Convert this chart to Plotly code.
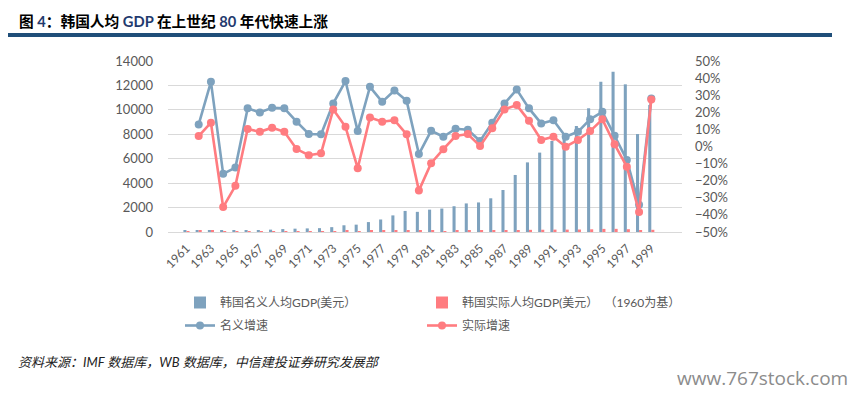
import plotly.graph_objects as go

years = [str(y) for y in range(1961, 2000)]
tick_years = years[::2]

nominal_gdp = [92, 104, 143, 122, 107, 131, 158, 194, 238, 273, 295, 316, 398, 550, 602,
               812, 1025, 1360, 1725, 1650, 1830, 1920, 2110, 2340, 2420, 2760, 3440, 4670,
               5700, 6500, 7450, 7930, 8680, 10130, 12300, 13120, 12090, 8020, 10400]
real_gdp = [80, 85, 97, 63, 49, 54, 58, 64, 70, 69, 66, 63, 77, 86, 75, 88, 100, 116, 124,
            92, 83, 82, 87, 93, 93, 103, 125, 155, 178, 185, 195, 195, 202, 220, 255, 258,
            228, 141, 180]

growth_years = years[1:]
nominal_growth = [12.9, 37.8, -16.0, -12.3, 22.3, 19.9, 22.6, 22.3, 14.5, 7.3, 7.1, 25.2,
                  38.3, 9.0, 34.9, 26.1, 32.7, 26.7, -4.4, 9.2, 5.7, 10.4, 9.8, 3.2, 13.9,
                  25.2, 33.3, 22.3, 13.5, 15.4, 5.7, 8.6, 15.9, 20.3, 6.3, -7.9, -34.1, 28.1]
real_growth = [6.1, 13.9, -35.4, -23.0, 10.2, 8.6, 11.0, 8.6, -1.5, -5.1, -4.0, 21.7,
               11.5, -12.7, 17.0, 14.5, 15.4, 7.1, -25.8, -9.8, -1.6, 6.1, 7.3, 0.3, 10.6,
               21.7, 24.2, 15.0, 3.8, 5.7, -0.1, 3.8, 9.0, 15.9, 1.3, -11.8, -38.3, 27.5]

BLUE = "#7EA2BE"
RED = "#FF7C80"
GRAY = "#595959"
FONT = "Lato, 'Noto Sans CJK SC', sans-serif"

W, H = 858, 394
L, R, T, B = 168, 682, 61, 232


def px_x(p):
    return (p - L) / (R - L)


def px_y(p):
    return (B - p) / (B - T)


fig = go.Figure()
fig.add_trace(go.Bar(x=years, y=nominal_gdp, name="韩国名义人均GDP(美元）",
                     marker=dict(color=BLUE, line=dict(width=0)),
                     legend="legend", legendgroup="a"))
fig.add_trace(go.Bar(x=years, y=real_gdp, name="韩国实际人均GDP(美元）  （1960为基）",
                     marker=dict(color=RED, line=dict(width=0)),
                     legend="legend2", legendgroup="b"))
fig.add_trace(go.Scatter(x=growth_years, y=[v / 100 for v in nominal_growth], name="名义增速",
                         mode="lines+markers", yaxis="y2",
                         line=dict(color=BLUE, width=2.6),
                         marker=dict(color=BLUE, size=8),
                         legend="legend", legendgroup="c"))
fig.add_trace(go.Scatter(x=growth_years, y=[v / 100 for v in real_growth], name="实际增速",
                         mode="lines+markers", yaxis="y2",
                         line=dict(color=RED, width=2.6),
                         marker=dict(color=RED, size=8),
                         legend="legend2", legendgroup="d"))

legend_common = dict(orientation="v", yanchor="top", xanchor="left",
                     font=dict(family=FONT, size=12, color=GRAY),
                     bgcolor="rgba(0,0,0,0)", tracegroupgap=4, itemwidth=30,
                     traceorder="grouped")

fig.update_layout(
    width=W, height=H,
    margin=dict(l=L, r=W - R, t=T, b=H - B, pad=0, autoexpand=False),
    paper_bgcolor="white", plot_bgcolor="white",
    font=dict(family=FONT, size=12, color=GRAY),
    barmode="group", bargap=0.5, bargroupgap=0,
    showlegend=True,
    legend=dict(x=px_x(180), y=px_y(288), **legend_common),
    legend2=dict(x=px_x(422), y=px_y(288), **legend_common),
    xaxis=dict(type="category", tickmode="array", tickvals=tick_years, ticktext=tick_years,
               tickangle=-45, showgrid=False, showline=False, ticks="",
               tickfont=dict(family=FONT, size=12, color=GRAY), ticklabelstandoff=6),
    yaxis=dict(range=[0, 14000], dtick=2000, tickformat="d", showgrid=True,
               gridcolor="#D9D9D9", gridwidth=1, zeroline=True, zerolinecolor="#D9D9D9",
               zerolinewidth=1, showline=False, ticks="",
               tickfont=dict(family=FONT, size=13, color=GRAY), ticklabelstandoff=14),
    yaxis2=dict(range=[-0.5, 0.5], dtick=0.1, tickformat=".0%", overlaying="y",
                side="right", showgrid=False, zeroline=False, showline=False, ticks="",
                tickfont=dict(family=FONT, size=13, color=GRAY), ticklabelstandoff=12),
)

NAVY = "#1F3A6E"
title = ("<b>图 <span style='color:%s'>4</span>：韩国人均 <span style='color:%s'>GDP</span> "
         "在上世纪 <span style='color:%s'>80</span> 年代快速上涨</b>") % (NAVY, NAVY, NAVY)
fig.add_annotation(text=title, xref="paper", yref="paper", x=px_x(17), y=px_y(21),
                   xanchor="left", yanchor="middle", showarrow=False,
                   font=dict(family=FONT, size=14.7, color="#000000"))
fig.add_shape(type="line", xref="paper", yref="paper", x0=px_x(8), x1=px_x(832),
              y0=px_y(35), y1=px_y(35), line=dict(color="#1F4E79", width=4))
fig.add_annotation(text="<i>资料来源：IMF 数据库，WB 数据库，中信建投证券研究发展部</i>",
                   xref="paper", yref="paper", x=px_x(16), y=px_y(362),
                   xanchor="left", yanchor="middle", showarrow=False,
                   font=dict(family=FONT, size=13, color="#222222"))
fig.add_annotation(text="www.767stock.com", xref="paper", yref="paper", x=px_x(850),
                   y=px_y(378), xanchor="right", yanchor="middle", showarrow=False,
                   font=dict(family="'Open Sans', sans-serif", size=19, color="#8C8C8C"))

fig.write_html("out.html", config={"displayModeBar": False},
               post_script="document.body.style.margin='0';")
